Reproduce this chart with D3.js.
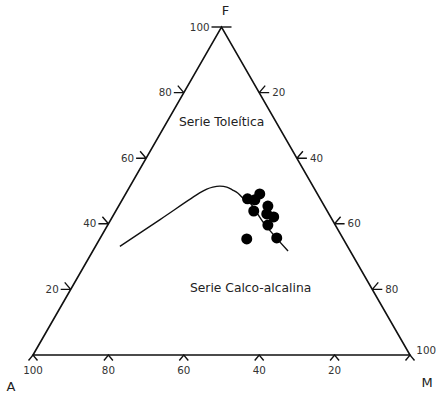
<!DOCTYPE html>
<html>
<head>
<meta charset="utf-8">
<script src="https://cdn.jsdelivr.net/npm/d3@7"></script>
<style>
  body { margin: 0; background: #fff; }
  text { font-family: "DejaVu Sans", Verdana, sans-serif; }
</style>
</head>
<body>
<svg id="chart" width="437" height="395"></svg>
<script>
// AFM diagram, values in percent
const tickValues = [20, 40, 60, 80, 100];

// tholeiitic / calc-alkaline boundary
const curveA = [60.4, 45.8, 31.1, 28.6, 26.7, 24.7, 23.0, 21.9, 21.0, 20.4, 19.3, 18.6, 16.5];
const curveF = [33.1, 41.2, 49.4, 50.6, 51.2, 51.5, 51.2, 50.3, 49.4, 47.9, 46.4, 39.9, 31.7];
const curveM = [6.5, 13.0, 19.5, 20.8, 22.1, 23.8, 25.8, 27.8, 29.6, 31.7, 34.3, 41.5, 51.8];

// samples
const pointA = [19.3, 15.3, 17.5, 19.5, 15.0, 16.5, 15.1, 17.9, 17.5, 25.6];
const pointF = [47.6, 49.1, 47.3, 43.9, 45.4, 43.0, 42.1, 39.6, 35.7, 35.4];
const pointM = [33.1, 35.6, 35.2, 36.6, 39.6, 40.5, 42.8, 42.5, 46.8, 39.0];

const svg = d3.select('#chart');
const h = Math.sqrt(3) / 2;

const x = d3.scaleLinear().domain([0, 1]).range([33, 410]);
const y = d3.scaleLinear().domain([0, h]).range([355, 27]);

// ternary (A, F, M) -> pixel
function project(a, f, m) {
  const s = a + f + m;
  const fx = (m + f / 2) / s;
  const fy = (f / s) * h;
  return [x(fx), y(fy)];
}

const pA = project(100, 0, 0);
const pF = project(0, 100, 0);
const pM = project(0, 0, 100);

svg.append('path')
   .attr('d', 'M' + pA + 'L' + pF + 'L' + pM + 'Z')
   .attr('fill', 'none')
   .attr('stroke', '#111')
   .attr('stroke-width', 1.6)
   .attr('stroke-linejoin', 'miter');

const tickG = svg.append('g')
                 .attr('stroke', '#111')
                 .attr('stroke-width', 1.4)
                 .attr('fill', 'none');
const labelG = svg.append('g')
                  .attr('font-size', 10.3)
                  .attr('fill', '#333');

// bottom axis: A
[0].concat(tickValues).forEach(v => {
  const p = project(v, 0, 100 - v);
  tickG.append('path')
       .attr('d', `M${p[0] - 4.5},${p[1] + 5.5}L${p[0]},${p[1]}L${p[0] + 4.5},${p[1] + 5.5}`);
});
tickValues.forEach(v => {
  const p = project(v, 0, 100 - v);
  labelG.append('text')
        .attr('x', p[0])
        .attr('y', p[1] + 19)
        .attr('text-anchor', 'middle')
        .text(v);
});

// left axis: F
tickValues.forEach(v => {
  const p = project(100 - v, v, 0);
  let d = `M${p[0] - 10},${p[1]}L${p[0]},${p[1]}`;
  if (v < 100) d += `M${p[0] - 6},${p[1] - 7}L${p[0]},${p[1]}`;
  else d += `L${p[0] + 10},${p[1]}`;
  tickG.append('path').attr('d', d);
  labelG.append('text')
        .attr('x', p[0] - 12)
        .attr('y', p[1] + 3.5)
        .attr('text-anchor', 'end')
        .text(v);
});

// right axis: M
tickValues.forEach(v => {
  const p = project(0, 100 - v, v);
  if (v < 100) {
    tickG.append('path')
         .attr('d', `M${p[0] + 10},${p[1]}L${p[0]},${p[1]}M${p[0] + 6},${p[1] - 7}L${p[0]},${p[1]}`);
    labelG.append('text')
          .attr('x', p[0] + 13)
          .attr('y', p[1] + 3.5)
          .text(v);
  } else {
    labelG.append('text')
          .attr('x', 436)
          .attr('y', p[1] - 1.5)
          .attr('text-anchor', 'end')
          .text(v);
  }
});

// vertex names
const vertexG = svg.append('g')
                   .attr('font-size', 13)
                   .attr('fill', '#222')
                   .attr('text-anchor', 'middle');
vertexG.append('text').attr('x', pF[0] + 4).attr('y', pF[1] - 12).text('F');
vertexG.append('text').attr('x', pA[0] - 22).attr('y', pA[1] + 36).text('A');
vertexG.append('text').attr('x', pM[0] + 17).attr('y', pM[1] + 32).text('M');

// boundary curve
const curvePts = curveA.map((a, i) => project(a, curveF[i], curveM[i]));
svg.append('path')
   .datum(curvePts)
   .attr('d', d3.line().curve(d3.curveCatmullRom.alpha(0.5)))
   .attr('fill', 'none')
   .attr('stroke', '#111')
   .attr('stroke-width', 1.4);

// samples
svg.append('g')
   .selectAll('circle')
   .data(pointA.map((a, i) => project(a, pointF[i], pointM[i])))
   .enter()
   .append('circle')
   .attr('cx', d => d[0])
   .attr('cy', d => d[1])
   .attr('r', 5.5)
   .attr('fill', '#000');

// field names
const fieldG = svg.append('g')
                  .attr('font-size', 12.3)
                  .attr('fill', '#222');
fieldG.append('text').attr('x', 179).attr('y', 126).text('Serie Toleítica');
fieldG.append('text').attr('x', 190).attr('y', 292).text('Serie Calco-alcalina');
</script>
</body>
</html>
